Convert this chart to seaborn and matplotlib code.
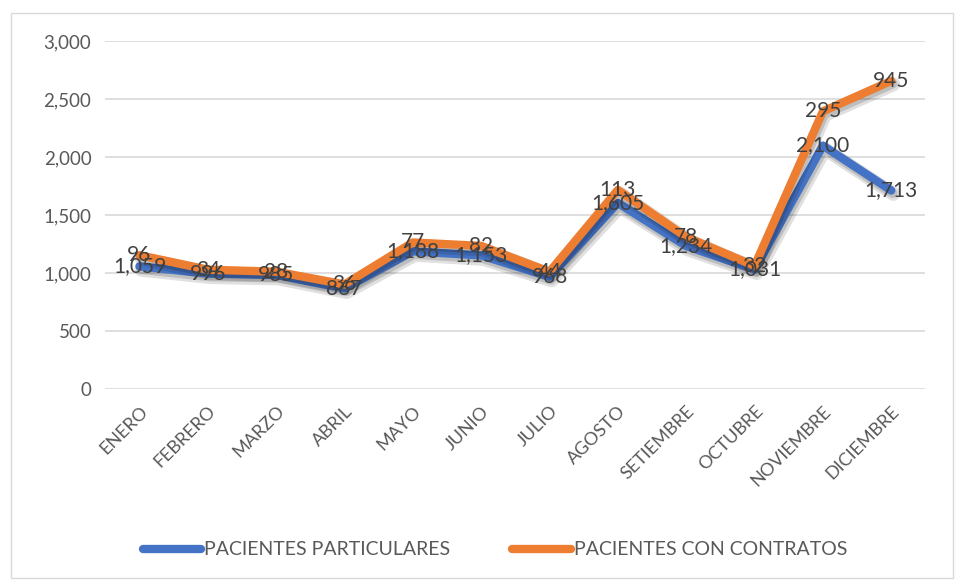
import numpy as np
import pandas as pd
import matplotlib
matplotlib.use("Agg")
import matplotlib.pyplot as plt
import matplotlib.patheffects as pe
from matplotlib.patches import Rectangle
import seaborn as sns

meses = ["ENERO", "FEBRERO", "MARZO", "ABRIL", "MAYO", "JUNIO", "JULIO",
         "AGOSTO", "SETIEMBRE", "OCTUBRE", "NOVIEMBRE", "DICIEMBRE"]
particulares = [1059, 996, 985, 867, 1188, 1153, 968, 1605, 1234, 1031, 2100, 1713]
contratos = [96, 34, 28, 36, 77, 82, 44, 113, 78, 32, 295, 945]
series = ["PACIENTES PARTICULARES", "PACIENTES CON CONTRATOS"]
colores = ["#4472C4", "#ED7D31"]


def build_frame():
    """Stacked line values, as in the original Excel chart."""
    apilado = np.array(particulares) + np.array(contratos)
    df = pd.DataFrame({
        "mes": meses * 2,
        "x": list(range(len(meses))) * 2,
        "valor": particulares + list(apilado),
        "etiqueta": particulares + contratos,
        "serie": [series[0]] * len(meses) + [series[1]] * len(meses),
    })
    return df


def main():
    sns.set_style("white")
    plt.rcParams["font.family"] = ["Lato", "DejaVu Sans"]

    df = build_frame()
    fig = plt.figure(figsize=(9.57, 5.8), dpi=100)
    ax = fig.add_axes([0.11, 0.329, 0.857, 0.6])

    sns.lineplot(data=df, x="x", y="valor", hue="serie", palette=colores,
                 linewidth=6, ax=ax, legend=False, sort=False,
                 path_effects=[pe.SimpleLineShadow(offset=(1.5, -2.5), alpha=0.12, linewidth=10),
                               pe.SimpleLineShadow(offset=(1, -2), alpha=0.15, linewidth=7),
                               pe.Normal()])

    for _, row in df.iterrows():
        ax.text(row["x"], row["valor"], f"{row['etiqueta']:,}", ha="center",
                va="center", fontsize=15, color="#404040")

    ax.set_ylim(0, 3000)
    ax.set_xlim(-0.5, len(meses) - 0.5)
    ax.set_yticks(range(0, 3001, 500))
    ax.set_yticklabels([f"{v:,}" for v in range(0, 3001, 500)], fontsize=13.5, color="#595959")
    ax.set_xticks(range(len(meses)))
    ax.set_xticklabels(meses, rotation=45, ha="right", rotation_mode="anchor",
                       fontsize=13, color="#595959")
    ax.tick_params(axis="both", length=0, pad=10)
    ax.yaxis.grid(True, color="#D9D9D9", linewidth=1.2)
    ax.set_axisbelow(True)
    for s in ax.spines.values():
        s.set_visible(False)
    ax.set_xlabel("")
    ax.set_ylabel("")

    handles = [plt.Line2D([0], [0], color=c, linewidth=6, solid_capstyle="round") for c in colores]
    fig.legend(handles, series, loc="center", bbox_to_anchor=(0.517, 0.052), ncol=2,
               frameon=False, fontsize=14, handlelength=3.0, handletextpad=0.15,
               columnspacing=3.2, labelcolor="#595959")

    fig.patches.append(Rectangle((0.011, 0.003), 0.985, 0.975, transform=fig.transFigure,
                                 fill=False, edgecolor="#D9D9D9", linewidth=1))

    fig.savefig("out.png", dpi=100)
    plt.close(fig)


if __name__ == "__main__":
    main()
